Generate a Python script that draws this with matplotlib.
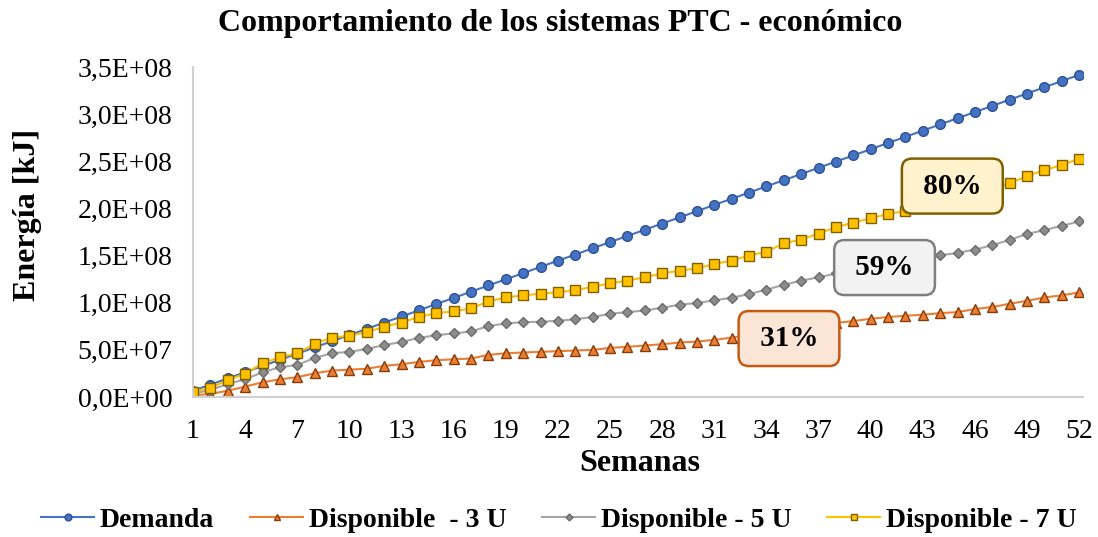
import matplotlib.pyplot as plt
from matplotlib.ticker import FuncFormatter

plt.rcParams['font.family'] = ['Liberation Serif', 'DejaVu Serif']

weeks = list(range(1, 53))

# energy per week [kJ] (values in millions)
demanda = [6.6, 13.2, 19.7, 26.3, 32.9, 39.4, 46.0, 52.6, 59.2, 65.7,
           72.3, 78.9, 85.4, 92.0, 98.6, 105.1, 111.7, 118.3, 124.8, 131.4,
           138.0, 144.6, 151.1, 157.7, 164.3, 170.8, 177.4, 184.0, 190.5, 197.1,
           203.7, 210.3, 216.8, 223.4, 230.0, 236.5, 243.1, 249.7, 256.2, 262.8,
           269.4, 276.0, 282.5, 289.1, 295.7, 302.2, 308.8, 315.4, 321.9, 328.5,
           335.1, 341.7]
disp_3u = [1.8, 3.2, 6.7, 11.0, 15.6, 18.8, 21.0, 25.2, 28.0, 29.0,
           30.0, 33.0, 34.8, 37.2, 39.0, 40.0, 40.8, 44.7, 46.4, 47.2,
           47.9, 48.6, 49.3, 50.0, 52.1, 53.2, 54.6, 56.0, 57.8, 58.8,
           60.6, 63.0, 66.0, 68.5, 72.0, 74.0, 76.0, 78.5, 80.5, 83.0,
           84.8, 86.2, 87.2, 89.0, 90.0, 93.3, 95.4, 98.9, 102.0, 105.6,
           107.8, 111.0]
disp_5u = [3.5, 7.5, 13.8, 18.8, 26.2, 31.6, 34.0, 41.5, 46.4, 47.9,
           51.0, 55.0, 58.5, 62.6, 65.6, 67.4, 69.5, 75.2, 78.0, 79.4,
           79.8, 80.8, 82.6, 84.8, 88.3, 90.0, 91.8, 94.7, 97.9, 99.7,
           102.5, 105.3, 109.2, 113.8, 119.0, 123.4, 127.0, 131.0, 134.0, 137.5,
           141.0, 144.0, 147.0, 150.3, 152.8, 156.4, 161.0, 166.7, 173.0, 177.0,
           181.6, 186.2]
disp_7u = [5.6, 9.9, 17.8, 24.8, 35.8, 42.2, 46.5, 56.4, 63.1, 64.9,
           68.8, 74.5, 79.0, 84.8, 89.0, 90.8, 94.0, 101.4, 105.6, 107.8,
           109.6, 111.0, 113.5, 116.7, 120.6, 123.4, 127.0, 131.0, 134.0, 136.5,
           141.0, 144.7, 150.0, 154.0, 163.0, 167.0, 173.4, 180.0, 185.0, 189.4,
           194.3, 197.0, 204.0, 209.0, 213.0, 218.0, 222.0, 226.6, 234.4, 240.7,
           246.0, 252.8]

series = [
    ("Demanda", demanda, '#4472C4', 'o', '#4472C4', '#2F528F', 7),
    ("Disponible  - 3 U", disp_3u, '#ED7D31', '^', '#ED7D31', '#843C0C', 7),
    ("Disponible - 5 U", disp_5u, '#A5A5A5', 'D', '#8C8C8C', '#6B6B6B', 5),
    ("Disponible - 7 U", disp_7u, '#FFC000', 's', '#FFC000', '#7F6000', 7),
]

# percentage boxes: (text, week, value in millions, face, edge)
labels = [("80%", 44.7, 223.7, '#FFF2CC', '#7F6000'),
          ("59%", 40.8, 137.3, '#F2F2F2', '#7F7F7F'),
          ("31%", 35.3, 62.0, '#FBE5D6', '#C55A11')]

fig = plt.figure(figsize=(10.98, 5.37), dpi=100)
ax = fig.add_axes([0.1758, 0.2607, 0.8102, 0.6145])

for name, vals, lc, mk, mf, me, ms in series:
    ax.plot(weeks, [v * 1e6 for v in vals], color=lc, lw=1.5, marker=mk,
            markersize=ms, markerfacecolor=mf, markeredgecolor=me,
            markeredgewidth=1.0, label=name)

for txt, w, v, fc, ec in labels:
    ax.text(w, v * 1e6, " " + txt + " ", ha='center', va='center',
            fontsize=21, fontweight='bold', zorder=5,
            bbox=dict(boxstyle='round,pad=0.48,rounding_size=0.35', fc=fc,
                      ec=ec, lw=1.8))

ax.set_xlim(1, 52.2)
ax.set_ylim(0, 3.5e8)
ax.set_xticks(weeks[::3])
ax.set_yticks([i * 5e7 for i in range(8)])
ax.yaxis.set_major_formatter(FuncFormatter(lambda v, p: f"{v:.1E}".replace('.', ',')))
ax.tick_params(length=0, labelsize=20)
ax.tick_params(axis='x', pad=16)
ax.tick_params(axis='y', pad=15)
for s in ['top', 'right']:
    ax.spines[s].set_visible(False)
for s in ['left', 'bottom']:
    ax.spines[s].set_color('#D0D0D0')
    ax.spines[s].set_linewidth(1.5)

fig.text(0.51, 0.957, "Comportamiento de los sistemas PTC - económico",
         ha='center', va='center', fontsize=23, fontweight='bold')
fig.text(0.583, 0.137, "Semanas", ha='center', va='center', fontsize=23,
         fontweight='bold')
fig.text(0.025, 0.60, "Energía [kJ]", ha='center', va='center', fontsize=23,
         fontweight='bold', rotation=90)

fig.legend(loc='center', bbox_to_anchor=(0.509, 0.032), ncol=4, frameon=False,
           prop={'size': 20, 'weight': 'bold'}, markerscale=0.7,
           handlelength=1.9, columnspacing=1.3, handletextpad=0.2)

fig.savefig('out.png', dpi=100)
